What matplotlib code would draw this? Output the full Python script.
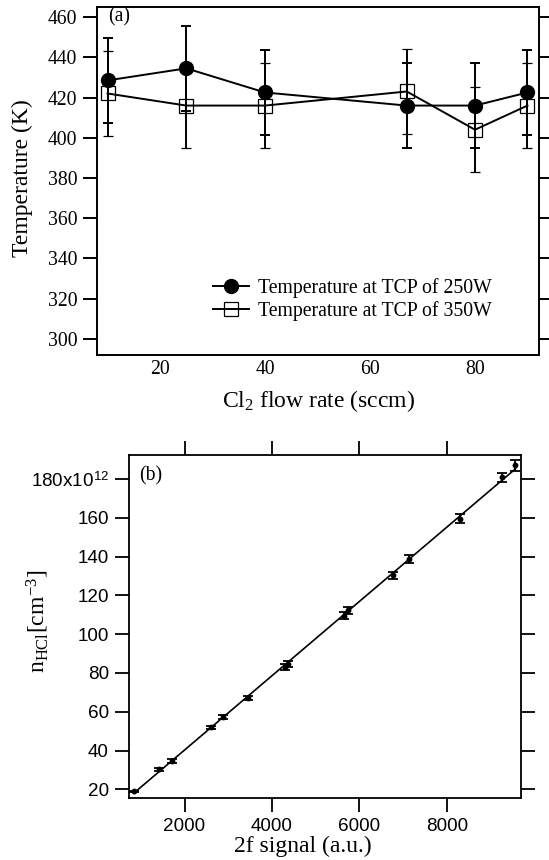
import matplotlib
matplotlib.use('Agg')
import matplotlib.pyplot as plt
import numpy as np
from matplotlib.ticker import FuncFormatter

plt.rcParams['font.family'] = 'Liberation Serif'
plt.rcParams['mathtext.fontset'] = 'custom'
plt.rcParams['mathtext.rm'] = 'Liberation Serif'
plt.rcParams['mathtext.sf'] = 'Liberation Sans'
plt.rcParams['mathtext.it'] = 'Liberation Serif:italic'

# panel (a): temperature vs Cl2 flow rate
flow = [10, 25, 40, 67, 80, 90]
temp_250 = [428.5, 434.5, 422.5, 416, 416, 422.5]
temp_350 = [422, 416, 416, 423, 404, 416]
temp_err = [21, 21, 21, 21, 21, 21]

# panel (b): HCl density vs 2f signal (units of 1e12 cm^-3)
signal = [834, 1405, 1718, 2602, 2875, 3453, 4300, 4360, 5639, 5742,
          6762, 7140, 8313, 9267, 9573]
n_hcl = [18.9, 30.3, 34.6, 51.9, 57.4, 67.1, 83.2, 84.6, 109.6, 112.3,
         130.3, 138.6, 159.6, 180.8, 187.0]
n_err = [0.4, 0.6, 0.8, 0.9, 1.0, 1.0, 1.4, 1.4, 1.8, 1.8,
         1.9, 2.0, 2.5, 2.5, 2.7]

W, H = 549, 860
fig = plt.figure(figsize=(W / 100, H / 100), dpi=100)


def add_axes_px(left, top, right, bottom):
    return fig.add_axes([left / W, 1 - bottom / H, (right - left) / W, (bottom - top) / H])


# ---- panel (a)
ax1 = add_axes_px(96.5, 7, 538.5, 355)
eb350 = ax1.errorbar(flow, temp_350, yerr=temp_err, color='black', marker='s', ms=10.3,
                     mfc='none', mec='black', mew=0.9, lw=1.4, elinewidth=1.4,
                     capsize=3.8, capthick=1.4)
eb250 = ax1.errorbar(flow, temp_250, yerr=temp_err, color='black', marker='o', ms=10,
                     lw=1.4, elinewidth=1.4, capsize=3.8, capthick=1.4)
ax1.set_xlim(7.9, 92.1)
ax1.set_ylim(292, 465)
ax1.set_xticks([20, 40, 60, 80])
ax1.set_yticks(range(300, 461, 20))
ax1.tick_params(axis='y', left=True, right=True, direction='out', length=10.4,
                width=1.4, labelsize=14.2, pad=3.4)
ax1.tick_params(axis='x', bottom=True, length=0, labelsize=14.2, pad=3.5)
for s in ax1.spines.values():
    s.set_linewidth(1.4)
ax1.legend([eb250[0], eb350[0]],
           ['Temperature at TCP of 250W', 'Temperature at TCP of 350W'],
           loc='upper left', bbox_to_anchor=(0.2636, 0.222), frameon=False,
           fontsize=14.2, handlelength=1.83, handletextpad=0.43,
           labelspacing=0.15, borderpad=0, borderaxespad=0)
ax1.text(0.027, 0.971, '(a)', transform=ax1.transAxes, ha='left', va='center',
         fontsize=14.2)

# ---- panel (b)
ax2 = add_axes_px(129, 455, 520.6, 797.7)
coef = np.polyfit(signal, n_hcl, 1)
xs = np.array([min(signal), max(signal)])
ax2.plot(xs, np.polyval(coef, xs), color='black', lw=1.2)
ax2.errorbar(signal, n_hcl, yerr=n_err, fmt='o', color='black', ms=3.2,
             elinewidth=1.3, capsize=3.6, capthick=1.3)
ax2.set_xlim(730, 9690)
ax2.set_ylim(15.7, 192.4)
ax2.set_xticks([2000, 4000, 6000, 8000])
ax2.set_yticks(range(20, 181, 20))
ax2.yaxis.set_major_formatter(FuncFormatter(
    lambda v, p: r'180x10$^{\mathsf{12}}$' if round(v) == 180 else f'{v:.0f}'))
ax2.tick_params(axis='both', direction='out', length=10.4, width=1.3, labelsize=13.6)
ax2.tick_params(axis='x', top=True, bottom=True, pad=4.5)
ax2.tick_params(axis='y', left=True, right=True, pad=4)
for lab in ax2.get_xticklabels() + ax2.get_yticklabels():
    lab.set_family('Liberation Sans')
for s in ax2.spines.values():
    s.set_linewidth(1.3)
ax2.text(0.0255, 0.939, '(b)', transform=ax2.transAxes, ha='left', va='center',
         fontsize=14.2)

# axis labels
fig.text(22 / W, 1 - 178 / H, 'Temperature (K)', rotation=90, ha='center', va='center',
         fontsize=17)
fig.text(221.7 / W, 1 - 406.7 / H, r'Cl$_{\mathrm{2}}$ flow rate (sccm)', ha='left',
         va='baseline', fontsize=17)
fig.text(37.5 / W, 1 - 621 / H, r'n$_{\mathrm{HCl}}$[cm$^{\mathrm{-3}}$]', rotation=90,
         ha='center', va='center', fontsize=17)
fig.text(234 / W, 1 - 851.7 / H, '2f signal (a.u.)', ha='left', va='baseline', fontsize=17)

fig.savefig('out.png', dpi=100)
